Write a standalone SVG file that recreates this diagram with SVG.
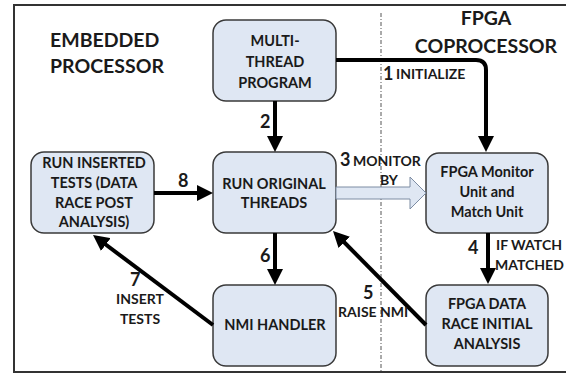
<svg xmlns="http://www.w3.org/2000/svg" width="566" height="376" viewBox="0 0 566 376">
<style>
.node rect{fill:#dfe7f3;stroke:#3a3a3a;stroke-width:1.5}
text{font-family:Lato,"Liberation Sans",sans-serif;font-weight:bold;fill:#1a1a1a}
.t{font-size:14.5px;text-anchor:middle}
.h{font-size:19.5px}
.l{font-size:14px}
.n{font-size:18px}
.c path.a{fill:none;stroke:#000;stroke-width:4;marker-end:url(#ah)}
</style>
<defs>
<marker id="ah" markerUnits="userSpaceOnUse" markerWidth="16" markerHeight="16" refX="6" refY="8" orient="auto">
<path d="M0,0 L16,8 L0,16 z" fill="#000"/>
</marker>
</defs>
<rect x="14" y="5" width="560" height="367" fill="#fff" stroke="#333" stroke-width="2"/>
<line x1="381" y1="13" x2="381" y2="372" stroke="#555" stroke-width="1" stroke-dasharray="4,2,1,2"/>
<text class="h" x="50" y="47">EMBEDDED</text>
<text class="h" x="50" y="73">PROCESSOR</text>
<text class="h" x="486" y="25" text-anchor="middle">FPGA</text>
<text class="h" x="486" y="53" text-anchor="middle">COPROCESSOR</text>

<g id="multi" class="node">
<rect x="213" y="20" width="123" height="81" rx="13"/>
<text class="t" x="275" y="46">MULTI-</text>
<text class="t" x="275" y="67">THREAD</text>
<text class="t" x="275" y="88">PROGRAM</text>
</g>
<g id="original" class="node">
<rect x="213" y="152" width="123" height="81" rx="13"/>
<text class="t" x="274" y="189">RUN ORIGINAL</text>
<text class="t" x="274" y="208">THREADS</text>
</g>
<g id="inserted" class="node">
<rect x="31" y="152" width="123" height="81" rx="13"/>
<text class="t" x="94" y="168">RUN INSERTED</text>
<text class="t" x="94" y="188">TESTS (DATA</text>
<text class="t" x="94" y="208">RACE POST</text>
<text class="t" x="94" y="227">ANALYSIS)</text>
</g>
<g id="nmi" class="node">
<rect x="213" y="285" width="123" height="81" rx="13"/>
<text class="t" x="275" y="330">NMI HANDLER</text>
</g>
<g id="monitor" class="node">
<rect x="426" y="153" width="122" height="80" rx="13"/>
<text class="t" x="487" y="177">FPGA Monitor</text>
<text class="t" x="487" y="197">Unit and</text>
<text class="t" x="487" y="217">Match Unit</text>
</g>
<g id="fpgadata" class="node">
<rect x="426" y="285" width="122" height="81" rx="13"/>
<text class="t" x="487" y="309">FPGA DATA</text>
<text class="t" x="487" y="329">RACE INITIAL</text>
<text class="t" x="487" y="349">ANALYSIS</text>
</g>

<g id="connectors" class="c">
<path class="a" d="M336,60 H476 Q486,60 486,70 V142"/>
<path class="a" d="M275,101 V142"/>
<polygon points="336,187 410,187 410,177 426,193 410,209 410,199 336,199" fill="#dfe7f3" stroke="#7d8ca3" stroke-width="1"/>
<path class="a" d="M488,233 V274"/>
<path class="a" d="M426,325 L340,238"/>
<path class="a" d="M275,233 V275"/>
<path class="a" d="M213,325 L101,241"/>
<path class="a" d="M154,193 H203"/>
</g>

<text class="n" x="383" y="80">1</text>
<text class="l" x="396" y="79">INITIALIZE</text>
<text class="n" x="260" y="128">2</text>
<text class="n" x="340" y="166">3</text>
<text class="l" x="353" y="166">MONITOR</text>
<text class="l" x="380" y="185">BY</text>
<text class="n" x="468" y="254">4</text>
<text class="l" x="496" y="250">IF WATCH</text>
<text class="l" x="495" y="270">MATCHED</text>
<text class="n" x="363" y="299">5</text>
<text class="l" x="338" y="317">RAISE NMI</text>
<text class="n" x="130" y="286">7</text>
<text class="l" x="140" y="304" text-anchor="middle">INSERT</text>
<text class="l" x="140" y="324" text-anchor="middle">TESTS</text>
<text class="n" x="260" y="262">6</text>
<text class="n" x="178" y="187">8</text>
</svg>
